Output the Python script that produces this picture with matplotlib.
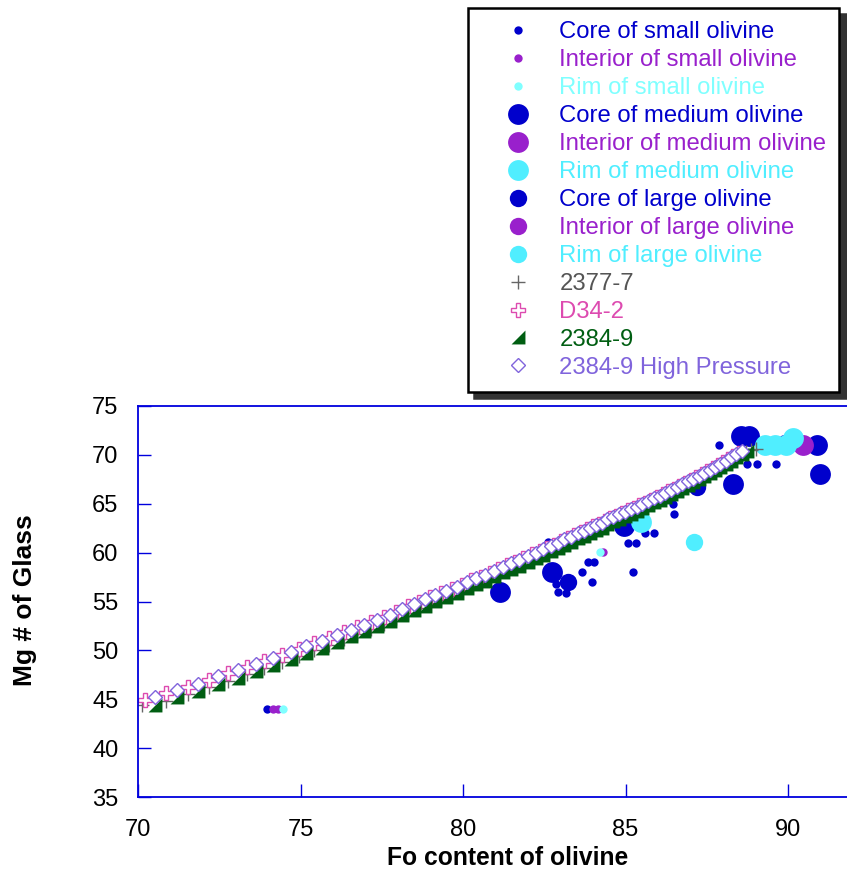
import matplotlib
matplotlib.use('Agg')
import matplotlib.pyplot as plt

plt.rcParams['font.family'] = ['Liberation Sans', 'DejaVu Sans']

# olivine analyses (Fo of olivine, Mg# of glass)
core_small_x = [73.98, 82.63, 82.93, 83.18, 82.85, 83.65, 83.86, 84.04, 83.98, 85.09, 85.32,
                85.24, 85.60, 85.88, 86.47, 86.49, 87.89, 88.74, 89.04, 89.63, 89.85]
core_small_y = [44.0, 61.1, 56.0, 55.9, 56.8, 58.0, 59.06, 59.06, 57.0, 61.0, 61.0,
                57.98, 62.0, 61.96, 65.0, 63.94, 71.0, 69.05, 69.02, 69.02, 71.6]
int_small_x = [74.15, 74.30, 84.32]
int_small_y = [44.0, 44.0, 60.02]
rim_small_x = [74.47, 84.20]
rim_small_y = [44.0, 60.02]

core_med_x = [81.14, 82.73, 84.95, 88.32, 88.55, 88.80, 90.90, 90.98]
core_med_y = [56.0, 58.04, 62.7, 67.0, 71.95, 71.9, 71.0, 68.0]
int_med_x = [90.45]
int_med_y = [71.0]
rim_med_x = [85.48, 89.30, 89.60, 89.95, 90.15]
rim_med_y = [63.1, 71.0, 71.0, 71.0, 71.75]

core_large_x = [83.24, 87.19]
core_large_y = [57.0, 66.75]
int_large_x = []
int_large_y = []
rim_large_x = [87.12]
rim_large_y = [61.05]

# model curves
m2377_x = [70.11, 70.87, 71.54, 72.17, 72.77, 73.35, 73.89, 74.43, 74.94, 75.41, 75.88, 76.33,
           76.75, 77.16, 77.56, 77.94, 78.31, 78.66, 78.99, 79.31, 79.65, 79.97, 80.26, 80.54,
           80.82, 81.09, 81.35, 81.61, 81.86, 82.12, 82.36, 82.59, 82.81, 83.02, 83.22, 83.43,
           83.63, 83.82, 84.00, 84.18, 84.36, 84.53, 84.71, 84.89, 85.07, 85.25, 85.43, 85.61,
           85.79, 85.97, 86.15, 86.32, 86.49, 86.66, 86.83, 87.00, 87.17, 87.34, 87.51, 87.68,
           87.84, 88.00, 88.16, 88.32, 88.49, 88.70, 88.86, 89.02]
m2377_y = [44.40, 44.82, 45.52, 46.21, 46.90, 47.56, 48.20, 48.80, 49.42, 49.99, 50.55, 51.15,
           51.70, 52.22, 52.74, 53.30, 53.85, 54.34, 54.81, 55.26, 55.66, 56.13, 56.59, 56.95,
           57.34, 57.77, 58.16, 58.51, 58.88, 59.27, 59.62, 59.96, 60.31, 60.66, 60.97, 61.29,
           61.60, 61.89, 62.19, 62.45, 62.75, 63.06, 63.33, 63.59, 63.86, 64.14, 64.42, 64.70,
           64.99, 65.27, 65.56, 65.86, 66.16, 66.45, 66.76, 67.06, 67.37, 67.68, 67.99, 68.30,
           68.62, 68.94, 69.26, 69.59, 69.92, 70.25, 70.45, 70.63]

d34_x = [70.20, 70.87, 71.54, 72.17, 72.77, 73.35, 73.89, 74.43, 74.94, 75.41, 75.88, 76.33,
         76.75, 77.16, 77.56, 77.94, 78.31, 78.66, 78.99, 79.31, 79.65, 79.97, 80.26, 80.54,
         80.82, 81.09, 81.35, 81.61, 81.86, 82.12, 82.36, 82.59, 82.81, 83.02, 83.22, 83.43,
         83.63, 83.82, 84.00, 84.18, 84.36, 84.53, 84.71, 84.89, 85.07, 85.25, 85.43, 85.61,
         85.79, 85.97, 86.15, 86.32, 86.49, 86.66, 86.83, 87.00, 87.17, 87.34, 87.51, 87.68,
         87.84, 88.00, 88.16, 88.32, 88.49]
d34_y = [44.90, 45.62, 46.30, 46.98, 47.67, 48.31, 48.94, 49.54, 50.15, 50.71, 51.26, 51.84,
         52.39, 52.90, 53.41, 53.96, 54.49, 54.97, 55.43, 55.87, 56.27, 56.73, 57.19, 57.53,
         57.92, 58.35, 58.73, 59.07, 59.44, 59.81, 60.16, 60.50, 60.83, 61.18, 61.49, 61.79,
         62.10, 62.39, 62.68, 62.93, 63.22, 63.52, 63.78, 64.04, 64.31, 64.58, 64.85, 65.12,
         65.40, 65.68, 65.97, 66.26, 66.55, 66.84, 67.13, 67.43, 67.73, 68.03, 68.34, 68.65,
         68.96, 69.27, 69.58, 69.90, 70.22]

m2384_x = [70.52, 71.21, 71.86, 72.47, 73.07, 73.62, 74.16, 74.70, 75.17, 75.65, 76.11, 76.55,
           76.95, 77.36, 77.75, 78.12, 78.49, 78.83, 79.14, 79.48, 79.81, 80.12, 80.40, 80.68,
           80.95, 81.22, 81.48, 81.73, 81.99, 82.25, 82.47, 82.70, 82.91, 83.12, 83.32, 83.53,
           83.73, 83.91, 84.09, 84.27, 84.44, 84.62, 84.80, 84.98, 85.16, 85.34, 85.52, 85.70,
           85.88, 86.06, 86.23, 86.40, 86.57, 86.74, 86.91, 87.08, 87.25, 87.42, 87.59, 87.76,
           87.92, 88.08, 88.24, 88.40, 88.57, 88.75]
m2384_y = [44.44, 45.20, 45.83, 46.59, 47.21, 47.90, 48.49, 49.11, 49.73, 50.25, 50.85, 51.44,
           51.96, 52.48, 53.00, 53.60, 54.09, 54.58, 55.03, 55.48, 55.84, 56.41, 56.77, 57.12,
           57.56, 57.98, 58.34, 58.67, 59.09, 59.44, 59.79, 60.13, 60.48, 60.83, 61.11, 61.46,
           61.73, 62.05, 62.33, 62.57, 62.92, 63.19, 63.46, 63.72, 64.00, 64.28, 64.55, 64.84,
           65.13, 65.41, 65.71, 66.01, 66.30, 66.60, 66.91, 67.21, 67.52, 67.83, 68.14, 68.46,
           68.78, 69.09, 69.42, 69.75, 70.08, 70.42]

hp_x = [70.52, 71.21, 71.86, 72.47, 73.07, 73.62, 74.16, 74.70, 75.17, 75.65, 76.11, 76.55,
        76.95, 77.36, 77.75, 78.12, 78.49, 78.83, 79.14, 79.48, 79.81, 80.12, 80.40, 80.68,
        80.95, 81.22, 81.48, 81.73, 81.99, 82.25, 82.47, 82.70, 82.91, 83.12, 83.32, 83.53,
        83.73, 83.91, 84.09, 84.27, 84.44, 84.62, 84.80, 84.98, 85.16, 85.34, 85.52, 85.70,
        85.88, 86.06, 86.23, 86.40, 86.57, 86.74, 86.91, 87.08, 87.25, 87.42, 87.59, 87.76,
        87.92, 88.08, 88.24, 88.40, 88.57]
hp_y = [45.24, 45.99, 46.61, 47.36, 47.97, 48.65, 49.23, 49.84, 50.45, 50.96, 51.55, 52.13,
        52.64, 53.15, 53.66, 54.25, 54.73, 55.21, 55.65, 56.09, 56.44, 57.01, 57.36, 57.70,
        58.14, 58.55, 58.90, 59.23, 59.64, 59.98, 60.33, 60.66, 61.00, 61.35, 61.62, 61.96,
        62.23, 62.54, 62.81, 63.05, 63.39, 63.65, 63.91, 64.17, 64.44, 64.71, 64.98, 65.26,
        65.54, 65.82, 66.11, 66.40, 66.69, 66.98, 67.28, 67.58, 67.88, 68.18, 68.49, 68.80,
        69.11, 69.42, 69.74, 70.06, 70.38]

blue = '#0000CC'
purple = '#9920CC'
cyan = '#50EEFF'
cyan_light = '#80FFFF'
gray = '#555555'
pink = '#DD4BB0'
green = '#005E12'
lav = '#8064DC'
axcol = '#0000DD'

S, M, L = 6.0, 15.0, 12.5

fig = plt.figure(figsize=(8.47, 8.73), dpi=100)
ax = fig.add_axes([138 / 847, 76 / 873, 715 / 847, 391 / 873])

h = []
h += ax.plot(core_small_x, core_small_y, 'o', ms=S, color=blue, mew=0, label='Core of small olivine')
h += ax.plot(int_small_x, int_small_y, 'o', ms=S, color=purple, mew=0, label='Interior of small olivine')
h += ax.plot(rim_small_x, rim_small_y, 'o', ms=S, color=cyan_light, mew=0, label='Rim of small olivine')
h += ax.plot(core_med_x, core_med_y, 'o', ms=M, color=blue, mew=0, label='Core of medium olivine')
h += ax.plot(int_med_x, int_med_y, 'o', ms=M, color=purple, mew=0, label='Interior of medium olivine')
h += ax.plot(rim_med_x, rim_med_y, 'o', ms=M, color=cyan, mew=0, label='Rim of medium olivine')
h += ax.plot(core_large_x, core_large_y, 'o', ms=L, color=blue, mew=0, label='Core of large olivine')
h += ax.plot(int_large_x, int_large_y, 'o', ms=L, color=purple, mew=0, label='Interior of large olivine')
h += ax.plot(rim_large_x, rim_large_y, 'o', ms=L, color=cyan, mew=0, label='Rim of large olivine')

tri = [(1, -1), (1, 1), (-1, -1)]
h += ax.plot(m2377_x, m2377_y, '+', ms=10, mew=1.0, color='#666666', label='2377-7')
h += ax.plot(d34_x, d34_y, 'P', ms=10, mew=1.0, mfc='white', mec=pink, label='D34-2')
h += ax.plot(m2384_x, m2384_y, ls='none', marker=tri, ms=10, mew=0, color=green, label='2384-9')
h += ax.plot(hp_x, hp_y, 'D', ms=6.8, mew=1.0, mfc='white', mec=lav, label='2384-9 High Pressure')

ax.set_xlim(70, 92)
ax.set_ylim(35, 75)
ax.set_xticks([70, 75, 80, 85, 90])
ax.set_yticks([35, 40, 45, 50, 55, 60, 65, 70, 75])
for sp in ax.spines.values():
    sp.set_color(axcol)
    sp.set_linewidth(1.3)
ax.tick_params(direction='in', length=9.5, width=1.0, color=axcol, labelsize=17, labelcolor='black')
ax.tick_params(axis='x', pad=16)
ax.tick_params(axis='y', pad=14)

fig.text(508 / 847, 1 - 858 / 873, 'Fo content of olivine', ha='center', va='center',
         fontsize=17.7, fontweight='bold')
fig.text(25 / 847, 1 - 600 / 873, 'Mg # of Glass', ha='center', va='center', rotation=90,
         fontsize=19, fontweight='bold')

label_cols = [blue, purple, cyan_light, blue, purple, cyan, blue, purple, cyan,
              gray, pink, green, lav]
leg = ax.legend(handles=h, loc='upper left', bbox_to_anchor=(468 / 847, 1 - 8 / 873),
                bbox_transform=fig.transFigure, fontsize=17.2, labelcolor=label_cols,
                frameon=True, fancybox=False, edgecolor='black', borderpad=0.55,
                handlelength=3.1, handletextpad=0.17, labelspacing=0.25, borderaxespad=0,
                shadow={'ox': 4.5, 'oy': -4.5, 'color': '#333333', 'alpha': 1}, framealpha=1)
leg.get_frame().set_linewidth(1.8)

plt.savefig('out.png', dpi=100)
